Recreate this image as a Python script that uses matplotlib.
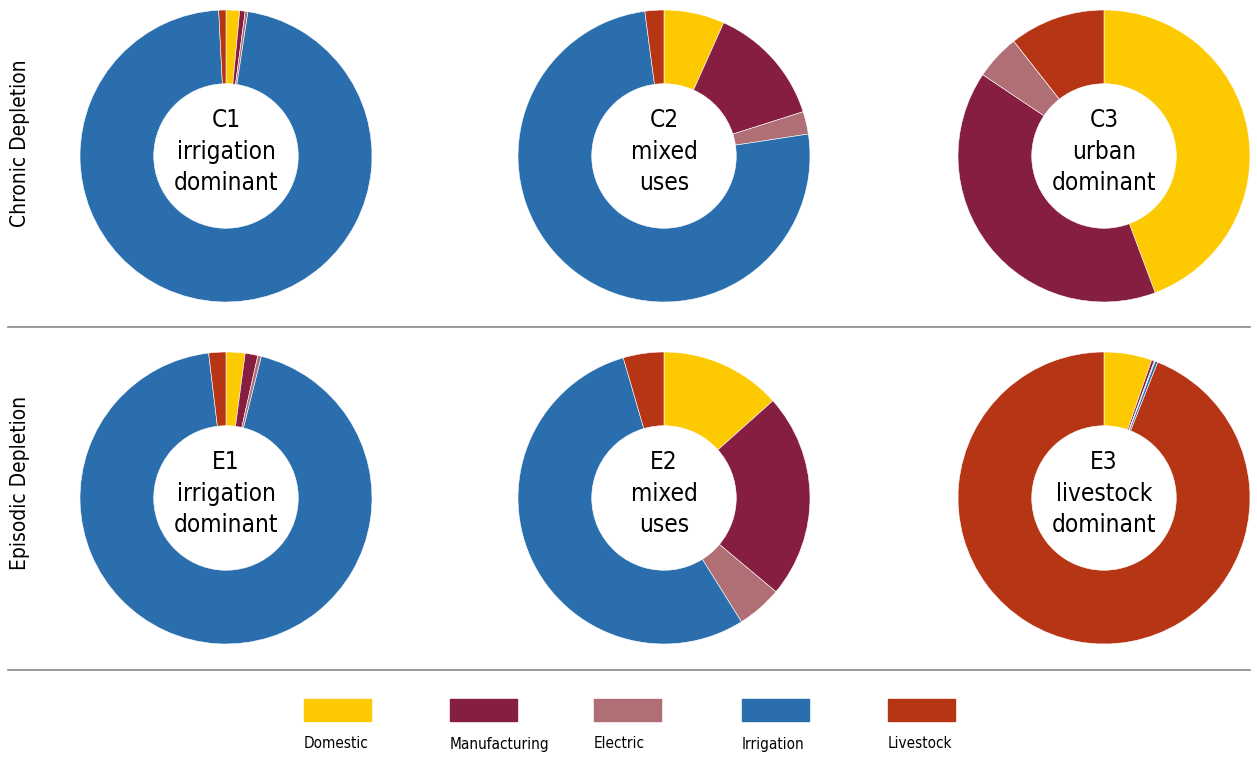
import matplotlib.pyplot as plt
from matplotlib.patches import Rectangle

plt.rcParams['font.family'] = ['DejaVu Sans']
plt.rcParams['font.stretch'] = 'condensed'

categories = ['Domestic', 'Manufacturing', 'Electric', 'Irrigation', 'Livestock']
colors = ['#FDC900', '#851E40', '#B06E75', '#2A6EAD', '#B53515']

# share of use per cluster, in the order of categories
c1 = [1.5, 0.6, 0.3, 96.8, 0.8]
c2 = [6.7, 13.4, 2.5, 75.3, 2.1]
c3 = [44.3, 40.1, 5.0, 0.0, 10.6]
e1 = [2.1, 1.4, 0.4, 94.2, 1.9]
e2 = [13.4, 22.7, 5.0, 54.4, 4.5]
e3 = [5.3, 0.3, 0.1, 0.3, 94.0]

labels = ['C1\nirrigation\ndominant', 'C2\nmixed\nuses', 'C3\nurban\ndominant',
          'E1\nirrigation\ndominant', 'E2\nmixed\nuses', 'E3\nlivestock\ndominant']
row_labels = ['Chronic Depletion', 'Episodic Depletion']

W, H = 1257, 757
fig = plt.figure(figsize=(W / 100, H / 100), dpi=100)

centers_x = [226, 664, 1104]
centers_y = [156, 498]
R = 146

data = [c1, c2, c3, e1, e2, e3]
for i, vals in enumerate(data):
    cx = centers_x[i % 3]
    cy = centers_y[i // 3]
    ax = fig.add_axes([(cx - R) / W, (H - cy - R) / H, 2 * R / W, 2 * R / H])
    ax.pie(vals, colors=colors, startangle=90, counterclock=False, radius=1,
           wedgeprops=dict(width=0.505, edgecolor='white', linewidth=0.4))
    ax.set_xlim(-1, 1)
    ax.set_ylim(-1, 1)
    ax.set_aspect('equal')
    ax.axis('off')
    ax.text(0, 0.03, labels[i], ha='center', va='center', fontsize=17.5,
            linespacing=1.38, color='black')

# row labels
for j, txt in enumerate(row_labels):
    yc = [143, 483][j]
    fig.text(20 / W, 1 - yc / H, txt, rotation=90, ha='center', va='center', fontsize=15)

# separator lines
for yl in [327, 670]:
    fig.add_artist(plt.Line2D([8 / W, 1250 / W], [1 - yl / H, 1 - yl / H],
                              color='#888888', linewidth=1.2))

# legend
leg_x = [304, 450, 594, 742, 888]
for k, name in enumerate(categories):
    x0 = leg_x[k]
    fig.add_artist(Rectangle((x0 / W, 1 - 721 / H), 67 / W, 22 / H,
                             color=colors[k], transform=fig.transFigure))
    fig.text(x0 / W, 1 - 744 / H, name, ha='left', va='center', fontsize=11)

fig.savefig('out.png', dpi=100, facecolor='white')
